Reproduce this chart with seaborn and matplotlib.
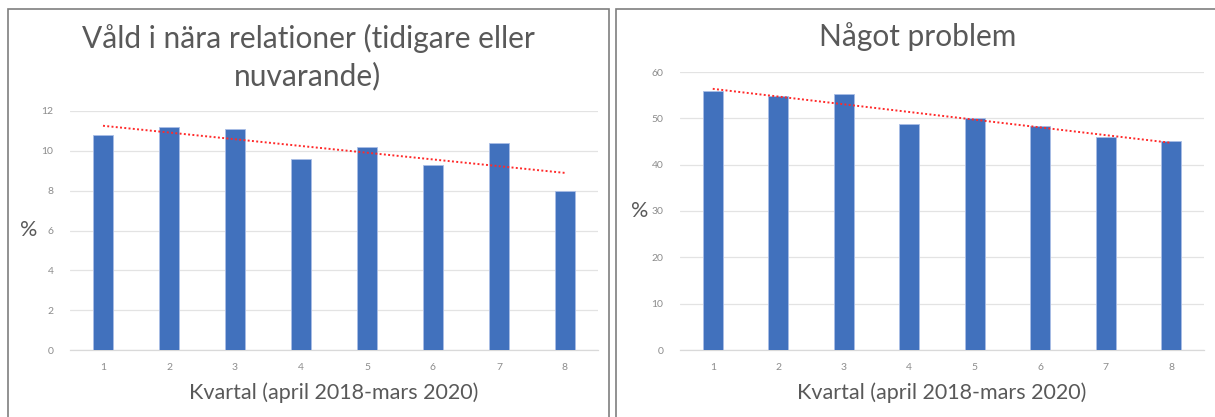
import numpy as np
import pandas as pd
import seaborn as sns
import matplotlib.pyplot as plt
from matplotlib.patches import Rectangle

# Data
kvartal = ['1', '2', '3', '4', '5', '6', '7', '8']
vald = [10.8, 11.2, 11.1, 9.6, 10.2, 9.3, 10.4, 8.0]
problem = [56.0, 54.8, 55.3, 48.7, 50.1, 48.3, 46.0, 45.1]

titles = ['Våld i nära relationer (tidigare eller\nnuvarande)', 'Något problem']
xlabel = 'Kvartal (april 2018-mars 2020)'

sns.set_theme(style='white')
plt.rcParams['font.family'] = ['Lato', 'DejaVu Sans']

W, H = 1215, 417
fig = plt.figure(figsize=(W / 100, H / 100), dpi=100)

def px(x0, y_top, x1, y_bot):
    return [x0 / W, 1 - y_bot / H, (x1 - x0) / W, (y_bot - y_top) / H]

ax1 = fig.add_axes(px(70, 111, 598, 350))
ax2 = fig.add_axes(px(680, 72, 1204, 350))

blue = '#4171BD'
grey_txt = '#595959'
tick_col = '#8c8c8c'

def draw(ax, values, ymax, step):
    df = pd.DataFrame({'kvartal': kvartal, 'value': values})
    sns.barplot(data=df, x='kvartal', y='value', color=blue, width=0.3,
                saturation=1, edgecolor='#a9bde6', linewidth=0.6, ax=ax, zorder=3)
    # linear trendline like Excel
    xs = np.arange(len(values))
    k, m = np.polyfit(xs, values, 1)
    ax.plot(xs, k * xs + m, color='#ff2a2a', linestyle=(0, (1, 1.2)),
            linewidth=1.4, zorder=4)
    ax.set_xlim(-0.5, len(values) - 0.5)
    ax.set_ylim(0, ymax)
    ax.set_yticks(np.arange(0, ymax + 0.1, step))
    ax.grid(axis='y', color='#e3e3e3', linewidth=0.9, zorder=0)
    ax.set_axisbelow(True)
    for s in ['top', 'right', 'left']:
        ax.spines[s].set_visible(False)
    ax.spines['bottom'].set_color('#d9d9d9')
    ax.spines['bottom'].set_linewidth(0.9)
    ax.tick_params(axis='both', length=0, labelsize=7.5, colors=tick_col)
    ax.tick_params(axis='y', pad=12)
    ax.tick_params(axis='x', pad=9)
    ax.set_xlabel(xlabel, fontsize=15.5, color=grey_txt, labelpad=8)
    ax.set_ylabel('%', fontsize=15.5, color=grey_txt, rotation=0,
                  va='center', ha='right', labelpad=2.5)

draw(ax1, vald, 12, 2)
draw(ax2, problem, 60, 10)

fig.text(308 / W, 1 - 57 / H, titles[0], ha='center', va='center',
         fontsize=21.5, color=grey_txt, linespacing=1.35)
fig.text(918 / W, 1 - 37 / H, titles[1], ha='center', va='center',
         fontsize=21.5, color=grey_txt)

# panel frames
for x0, x1 in [(7.5, 609), (616, 1240)]:
    fig.add_artist(Rectangle((x0 / W, -0.1), (x1 - x0) / W, 1.1 - 8.5 / H,
                             transform=fig.transFigure, fill=False,
                             edgecolor='#7f7f7f', linewidth=1.2))

fig.savefig('out.png', dpi=100)
